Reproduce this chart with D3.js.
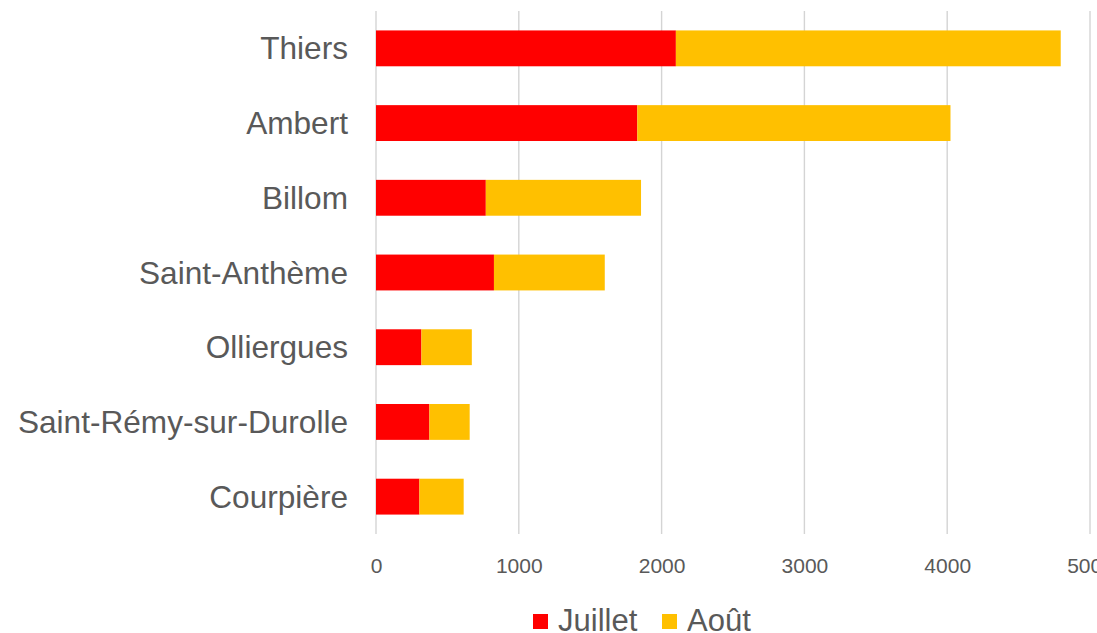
<!DOCTYPE html>
<html>
<head>
<meta charset="utf-8">
<script src="https://cdn.jsdelivr.net/npm/d3@7"></script>
<style>
  body { margin: 0; background: #fff; overflow: hidden; }
  svg { display: block; font-family: "Liberation Sans", Arial, sans-serif; }
</style>
</head>
<body>
<div id="chart"></div>
<script>
// values
var communes = ["Thiers", "Ambert", "Billom", "Saint-Anthème", "Olliergues",
                "Saint-Rémy-sur-Durolle", "Courpière"];
var juillet = [2100, 1830, 769, 826, 318, 374, 304];
var aout    = [2695, 2193, 1087, 776, 353, 282, 310];
var seriesNames = ["Juillet", "Août"];
var seriesColors = ["#ff0000", "#ffc000"];
var xTicks = [0, 1000, 2000, 3000, 4000, 5000];

var width = 1097, height = 633;
var textColor = "#595959";

var svg = d3.select("#chart").append("svg")
    .attr("width", width)
    .attr("height", height);

var x = d3.scaleLinear().domain([0, 5000]).range([376, 1090]);
var y = d3.scaleBand().domain(communes).range([11, 534]).paddingInner(0.52).paddingOuter(0.26);

// gridlines
svg.append("g")
  .selectAll("line")
  .data(xTicks)
  .enter().append("line")
  .attr("x1", function(d) { return x(d); })
  .attr("x2", function(d) { return x(d); })
  .attr("y1", 11)
  .attr("y2", 534)
  .attr("stroke", "#d4d4d4")
  .attr("stroke-width", 1.4);

// stacked bars
var rows = communes.map(function(c, i) {
    return { commune: c, Juillet: juillet[i], "Août": aout[i] };
});
var stacked = d3.stack().keys(seriesNames)(rows);

svg.append("g")
  .selectAll("g")
  .data(stacked)
  .enter().append("g")
  .attr("fill", function(d, i) { return seriesColors[i]; })
  .selectAll("rect")
  .data(function(d) { return d; })
  .enter().append("rect")
  .attr("x", function(d) { return x(d[0]); })
  .attr("width", function(d) { return x(d[1]) - x(d[0]); })
  .attr("y", function(d) { return y(d.data.commune); })
  .attr("height", y.bandwidth());

// category labels
svg.append("g")
  .selectAll("text")
  .data(communes)
  .enter().append("text")
  .attr("x", 348)
  .attr("y", function(d) { return y(d) + y.bandwidth() / 2; })
  .attr("dy", "0.35em")
  .attr("text-anchor", "end")
  .attr("fill", textColor)
  .style("font-size", "31.6px")
  .text(function(d) { return d; });

// x axis labels
var xAxis = svg.append("g")
  .attr("transform", "translate(0,573)")
  .call(d3.axisBottom(x).tickValues(xTicks).tickFormat(d3.format("d")).tickSize(0).tickPadding(0));
xAxis.select(".domain").remove();
xAxis.selectAll("text")
  .attr("dy", 0)
  .attr("fill", textColor)
  .style("font-family", "'Liberation Sans', Arial, sans-serif")
  .style("font-size", "21px");

// legend
var legendX = [533, 662];
var legend = svg.append("g")
  .selectAll("g")
  .data(seriesNames)
  .enter().append("g")
  .attr("transform", function(d, i) { return "translate(" + legendX[i] + ",0)"; });

legend.append("rect")
  .attr("x", 0)
  .attr("y", 614)
  .attr("width", 15)
  .attr("height", 15)
  .attr("fill", function(d, i) { return seriesColors[i]; });

legend.append("text")
  .attr("x", 25)
  .attr("y", 631)
  .attr("fill", textColor)
  .style("font-size", "31px")
  .text(function(d) { return d; });
</script>
</body>
</html>
